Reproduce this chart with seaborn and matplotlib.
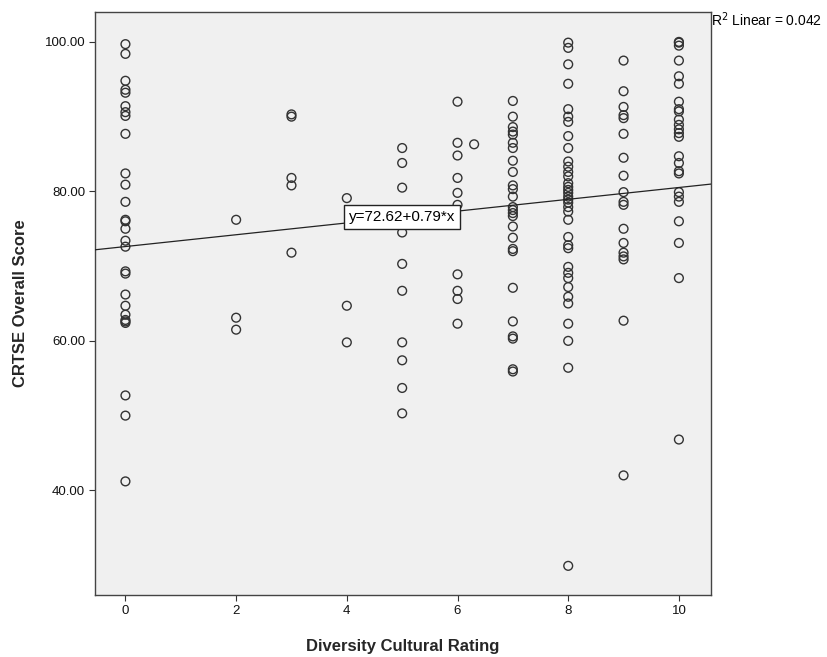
import numpy as np
import pandas as pd
import matplotlib
matplotlib.use("Agg")
import matplotlib.pyplot as plt
import seaborn as sns

# CRTSE overall scores grouped by diversity cultural rating
score_r0 = [99.7, 98.4, 94.8, 93.6, 93.2, 91.4, 90.6, 90.1, 87.7, 82.4, 80.9, 78.6,
            76.2, 76.0, 75.0, 73.4, 72.6, 69.3, 69.0, 66.2, 64.7, 63.5, 62.8, 62.6,
            62.4, 52.7, 50.0, 41.2]
score_r2 = [76.2, 63.1, 61.5]
score_r3 = [90.3, 90.0, 81.8, 80.8, 71.8]
score_r4 = [79.1, 64.7, 59.8]
score_r5 = [85.8, 83.8, 80.5, 74.5, 70.3, 66.7, 59.8, 57.4, 53.7, 50.3]
score_r6 = [92.0, 86.5, 84.8, 81.8, 79.8, 78.2, 68.9, 66.7, 65.6, 62.3]
score_r6_3 = [86.3]
score_r7 = [92.1, 90.0, 88.6, 88.0, 87.6, 86.5, 85.8, 84.1, 82.6, 80.8, 80.3, 79.3,
            77.9, 77.5, 77.1, 76.7, 75.3, 73.8, 72.3, 72.0, 67.1, 62.6, 60.6, 60.3,
            56.2, 55.9]
score_r8 = [99.9, 99.2, 97.0, 94.4, 91.0, 90.0, 89.3, 87.4, 85.8, 84.0, 83.3, 82.6,
            82.0, 81.1, 80.6, 80.2, 79.8, 79.3, 78.9, 78.5, 77.9, 77.3, 76.2, 73.9,
            72.8, 72.4, 69.9, 69.1, 68.4, 67.2, 65.9, 65.0, 62.3, 60.0, 56.4, 29.9]
score_r9 = [97.5, 93.4, 91.3, 90.2, 89.8, 87.7, 84.5, 82.1, 79.9, 78.6, 78.2, 75.0,
            73.1, 71.8, 71.3, 70.9, 62.7, 42.0]
score_r10 = [100.0, 99.9, 99.5, 97.5, 95.4, 94.4, 92.0, 91.0, 90.7, 89.6, 88.9, 88.3,
             87.8, 87.3, 84.7, 83.8, 82.7, 82.4, 79.9, 79.3, 78.6, 76.0, 73.1, 68.4,
             46.8]

groups = {0: score_r0, 2: score_r2, 3: score_r3, 4: score_r4, 5: score_r5,
          6: score_r6, 6.3: score_r6_3, 7: score_r7, 8: score_r8, 9: score_r9,
          10: score_r10}

# Fit line as reported: y = 72.62 + 0.79 * x, R^2 = 0.042
intercept = 72.62
slope = 0.79
r_squared = 0.042

x_ticks = [0, 2, 4, 6, 8, 10]
y_ticks = [40, 60, 80, 100]

df = pd.DataFrame(
    [(r, s) for r, scores in groups.items() for s in scores],
    columns=["rating", "score"],
)

sns.set_theme(style="white")
plt.rcParams["font.family"] = ["Liberation Sans", "DejaVu Sans"]

fig = plt.figure(figsize=(8.27, 6.57), dpi=100)
fig.patch.set_facecolor("white")
ax = fig.add_axes([95 / 827, 1 - 595 / 657, (711 - 95) / 827, (595 - 12) / 657])
ax.set_facecolor("#f0f0f0")

sns.scatterplot(data=df, x="rating", y="score", ax=ax, marker="o", s=40,
                facecolors="none", edgecolor="#333333", linewidth=1.0,
                legend=False)

xlim = (-0.55, 10.58)
ylim = (26.0, 104.0)
ax.set_xlim(xlim)
ax.set_ylim(ylim)

xs = np.array(xlim)
ax.plot(xs, intercept + slope * xs, color="#222222", linewidth=0.9, zorder=3)

ax.text(5.0, intercept + slope * 5.0, f"y={intercept:.2f}+{slope:.2f}*x",
        ha="center", va="center", fontsize=11, color="black", zorder=5,
        bbox=dict(boxstyle="square,pad=0.3", facecolor="white",
                  edgecolor="#222222", linewidth=1.0))

fig.text(711 / 827, 1 - 20 / 657, f"R$^2$ Linear = {r_squared:.3f}",
         ha="left", va="center", fontsize=10, color="black")

ax.set_xticks(x_ticks)
ax.set_yticks(y_ticks)
ax.set_yticklabels([f"{v:.2f}" for v in y_ticks])
ax.tick_params(axis="both", which="both", direction="out", length=4, width=0.8,
               color="#333333", labelsize=9.5, labelcolor="#111111",
               bottom=True, left=True, top=False, right=False, pad=3)

for side in ["top", "right", "bottom", "left"]:
    ax.spines[side].set_color("#444444")
    ax.spines[side].set_linewidth(1.0)

ax.set_xlabel("Diversity Cultural Rating", fontsize=12, fontweight="bold",
              labelpad=16)
ax.set_ylabel("CRTSE Overall Score", fontsize=12, fontweight="bold",
              labelpad=12)

fig.savefig("out.png", dpi=100, facecolor="white")
